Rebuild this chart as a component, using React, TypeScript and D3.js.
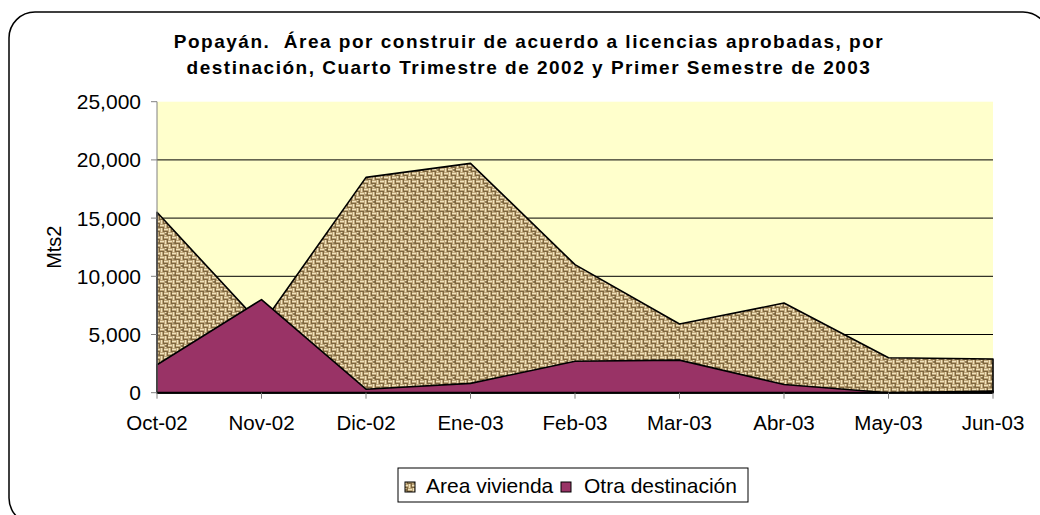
import React from "react";
import * as d3 from "d3";

const categories = ["Oct-02", "Nov-02", "Dic-02", "Ene-03", "Feb-03", "Mar-03", "Abr-03", "May-03", "Jun-03"];
const vivienda = [15500, 5800, 18500, 19700, 11000, 5900, 7700, 3000, 2900];
const otra = [2400, 8000, 300, 800, 2700, 2800, 700, 0, 150];
const yTicks = [0, 5000, 10000, 15000, 20000, 25000];
const seriesNames = ["Area vivienda", "Otra destinación"];
const titleLines = [
  "Popayán.  Área por construir de acuerdo a licencias aprobadas, por",
  "destinación, Cuarto Trimestre de 2002 y Primer Semestre de 2003",
];

const W = 1040;
const H = 515;
const left = 157;
const right = 993;
const top = 101.7;
const bottom = 392.7;
const font = "Arial, 'Liberation Sans', sans-serif";

export default function App() {
  const x = d3.scalePoint<string>().domain(categories).range([left, right]);
  const y = d3.scaleLinear().domain([0, 25000]).range([bottom, top]);
  const fmt = d3.format(",");

  const area = d3
    .area<number>()
    .x((_, i) => x(categories[i]) as number)
    .y0(y(0))
    .y1((d) => y(d));

  // woven texture tiles
  const tile: JSX.Element[] = [];
  const dark = "#5a4420";
  const light = "#f0e2bc";
  for (let r = 0; r < 4; r++) {
    for (let c = 0; c < 4; c++) {
      const horiz = (r + c) % 2 === 0;
      const ox = c * 4;
      const oy = r * 4;
      if (horiz) {
        tile.push(<rect key={`a${r}${c}`} x={ox} y={oy + 1} width={4} height={1} fill={light} />);
        tile.push(<rect key={`b${r}${c}`} x={ox} y={oy + 3} width={4} height={1} fill={dark} opacity={0.65} />);
      } else {
        tile.push(<rect key={`a${r}${c}`} x={ox + 1} y={oy} width={1} height={4} fill={light} />);
        tile.push(<rect key={`b${r}${c}`} x={ox + 3} y={oy} width={1} height={4} fill={dark} opacity={0.65} />);
      }
    }
  }

  return (
    <svg width={W} height={H} style={{ position: "absolute", left: 0, top: 0 }}>
      <defs>
        <pattern id="burlap" patternUnits="userSpaceOnUse" width={16} height={16}>
          <rect width={16} height={16} fill="#bea679" />
          {tile}
          <rect x={5} y={9} width={2} height={2} fill={dark} opacity={0.6} />
          <rect x={13} y={2} width={2} height={2} fill={dark} opacity={0.5} />
        </pattern>
      </defs>
      <rect x={0} y={0} width={W} height={H} fill="#ffffff" />
      <rect x={9} y={12} width={1040} height={512} rx={26} ry={26} fill="#ffffff" stroke="#000" strokeWidth={1.5} />

      {titleLines.map((t, i) => (
        <text
          key={i}
          x={529}
          y={48 + i * 26}
          textAnchor="middle"
          fontFamily={font}
          fontWeight="bold"
          fontSize={19}
          letterSpacing={1.5}
          fill="#000"
          style={{ whiteSpace: "pre" }}
        >
          {t}
        </text>
      ))}

      <rect x={left} y={top} width={right - left} height={bottom - top} fill="#ffffcc" />
      {yTicks.slice(1, -1).map((t) => (
        <line key={t} x1={left} x2={right} y1={y(t)} y2={y(t)} stroke="#000" strokeWidth={1} />
      ))}

      <path d={area(vivienda) || ""} fill="url(#burlap)" stroke="#000" strokeWidth={1.6} strokeLinejoin="round" />
      <path d={area(otra) || ""} fill="#993366" stroke="#000" strokeWidth={1.6} strokeLinejoin="round" />

      <line x1={left} x2={left} y1={top} y2={bottom} stroke="#808080" strokeWidth={1} />
      <line x1={left} x2={right} y1={bottom} y2={bottom} stroke="#000" strokeWidth={2} />
      {yTicks.map((t) => (
        <g key={t}>
          <line x1={left - 6} x2={left} y1={y(t)} y2={y(t)} stroke="#808080" />
          <text x={141} y={y(t)} dy="0.36em" textAnchor="end" fontFamily={font} fontSize={21} fill="#000">
            {fmt(t)}
          </text>
        </g>
      ))}
      {categories.map((c) => (
        <g key={c}>
          <line x1={x(c)} x2={x(c)} y1={bottom} y2={bottom + 6} stroke="#808080" />
          <text x={x(c)} y={430} textAnchor="middle" fontFamily={font} fontSize={20.5} fill="#000">
            {c}
          </text>
        </g>
      ))}
      <text
        transform={`translate(54,${(top + bottom) / 2}) rotate(-90)`}
        textAnchor="middle"
        dy="0.35em"
        fontFamily={font}
        fontSize={20}
        fill="#000"
      >
        Mts2
      </text>

      <rect x={398} y={468} width={350} height={34} fill="#fff" stroke="#000" strokeWidth={1} />
      <rect x={405} y={482} width={10} height={10} fill="url(#burlap)" stroke="#000" strokeWidth={1} />
      <text x={426} y={493} fontFamily={font} fontSize={21} fill="#000">
        {seriesNames[0]}
      </text>
      <rect x={561} y={482} width={10} height={10} fill="#993366" stroke="#000" strokeWidth={1} />
      <text x={584} y={493} fontFamily={font} fontSize={21} fill="#000">
        {seriesNames[1]}
      </text>
    </svg>
  );
}
